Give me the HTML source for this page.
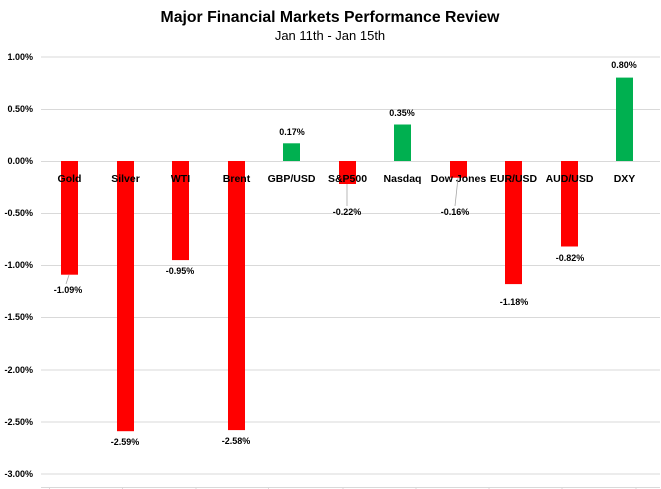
<!DOCTYPE html>
<html><head><meta charset="utf-8"><style>
body{margin:0;background:#fff}
svg{display:block;font-family:"Liberation Sans",sans-serif}
</style></head><body>
<svg width="661" height="489" xmlns="http://www.w3.org/2000/svg">
<text x="330" y="22" text-anchor="middle" font-size="15.8" font-weight="bold">Major Financial Markets Performance Review</text>
<text x="330" y="40" text-anchor="middle" font-size="13">Jan 11th - Jan 15th</text>
<g stroke="#d9d9d9" stroke-width="1">
<line x1="41" x2="660" y1="57" y2="57"/><line x1="41" x2="660" y1="109.5" y2="109.5"/>
<line x1="41" x2="660" y1="161.5" y2="161.5"/><line x1="41" x2="660" y1="213.5" y2="213.5"/>
<line x1="41" x2="660" y1="265.5" y2="265.5"/><line x1="41" x2="660" y1="317.5" y2="317.5"/>
<line x1="41" x2="660" y1="370" y2="370"/><line x1="41" x2="660" y1="422" y2="422"/>
<line x1="41" x2="660" y1="474" y2="474"/>
<line x1="41" x2="660" y1="487.5" y2="487.5"/>
<line x1="49.5" x2="49.5" y1="487" y2="489"/><line x1="122.5" x2="122.5" y1="487" y2="489"/>
<line x1="196" x2="196" y1="487" y2="489"/><line x1="268.5" x2="268.5" y1="487" y2="489"/>
<line x1="343" x2="343" y1="487" y2="489"/><line x1="416" x2="416" y1="487" y2="489"/>
<line x1="489" x2="489" y1="487" y2="489"/><line x1="562" x2="562" y1="487" y2="489"/>
<line x1="636" x2="636" y1="487" y2="489"/>
</g>
<g font-size="9" font-weight="bold" text-anchor="end">
<text x="33" y="60">1.00%</text><text x="33" y="112">0.50%</text><text x="33" y="164">0.00%</text>
<text x="33" y="216">-0.50%</text><text x="33" y="268">-1.00%</text><text x="33" y="320">-1.50%</text>
<text x="33" y="373">-2.00%</text><text x="33" y="425">-2.50%</text><text x="33" y="477">-3.00%</text>
</g>
<g fill="#ff0000">
<rect x="61" y="161" width="17" height="113.7"/>
<rect x="117" y="161" width="17" height="270.2"/>
<rect x="172" y="161" width="17" height="99.1"/>
<rect x="228" y="161" width="17" height="269.1"/>
<rect x="339" y="161" width="17" height="23"/>
<rect x="450" y="161" width="17" height="16.7"/>
<rect x="505" y="161" width="17" height="123.1"/>
<rect x="561" y="161" width="17" height="85.5"/>
</g>
<g fill="#00b050">
<rect x="283" y="143.3" width="17" height="17.7"/>
<rect x="394" y="124.5" width="17" height="36.5"/>
<rect x="616" y="77.6" width="17" height="83.4"/>
</g>
<g font-size="10.5" font-weight="bold" text-anchor="middle">
<text x="69.5" y="182">Gold</text><text x="125.5" y="182">Silver</text><text x="180.5" y="182">WTI</text>
<text x="236.5" y="182">Brent</text><text x="291.5" y="182">GBP/USD</text><text x="347.5" y="182">S&amp;P500</text>
<text x="402.5" y="182">Nasdaq</text><text x="458.5" y="182">Dow Jones</text><text x="513.5" y="182">EUR/USD</text>
<text x="569.5" y="182">AUD/USD</text><text x="624.5" y="182">DXY</text>
</g>
<g font-size="9" font-weight="bold" text-anchor="middle">
<text x="68" y="293">-1.09%</text><text x="125" y="445">-2.59%</text><text x="180" y="274">-0.95%</text>
<text x="236" y="444">-2.58%</text><text x="292" y="135">0.17%</text><text x="347" y="215">-0.22%</text>
<text x="402" y="116">0.35%</text><text x="455" y="215">-0.16%</text><text x="514" y="305">-1.18%</text>
<text x="570" y="261">-0.82%</text><text x="624" y="68">0.80%</text>
</g>
<g stroke="#a6a6a6" stroke-width="0.8">
<line x1="69" y1="275" x2="66" y2="284"/><line x1="347" y1="184" x2="347" y2="206"/><line x1="458" y1="178" x2="455" y2="206"/>
</g>
</svg>
</body></html>
